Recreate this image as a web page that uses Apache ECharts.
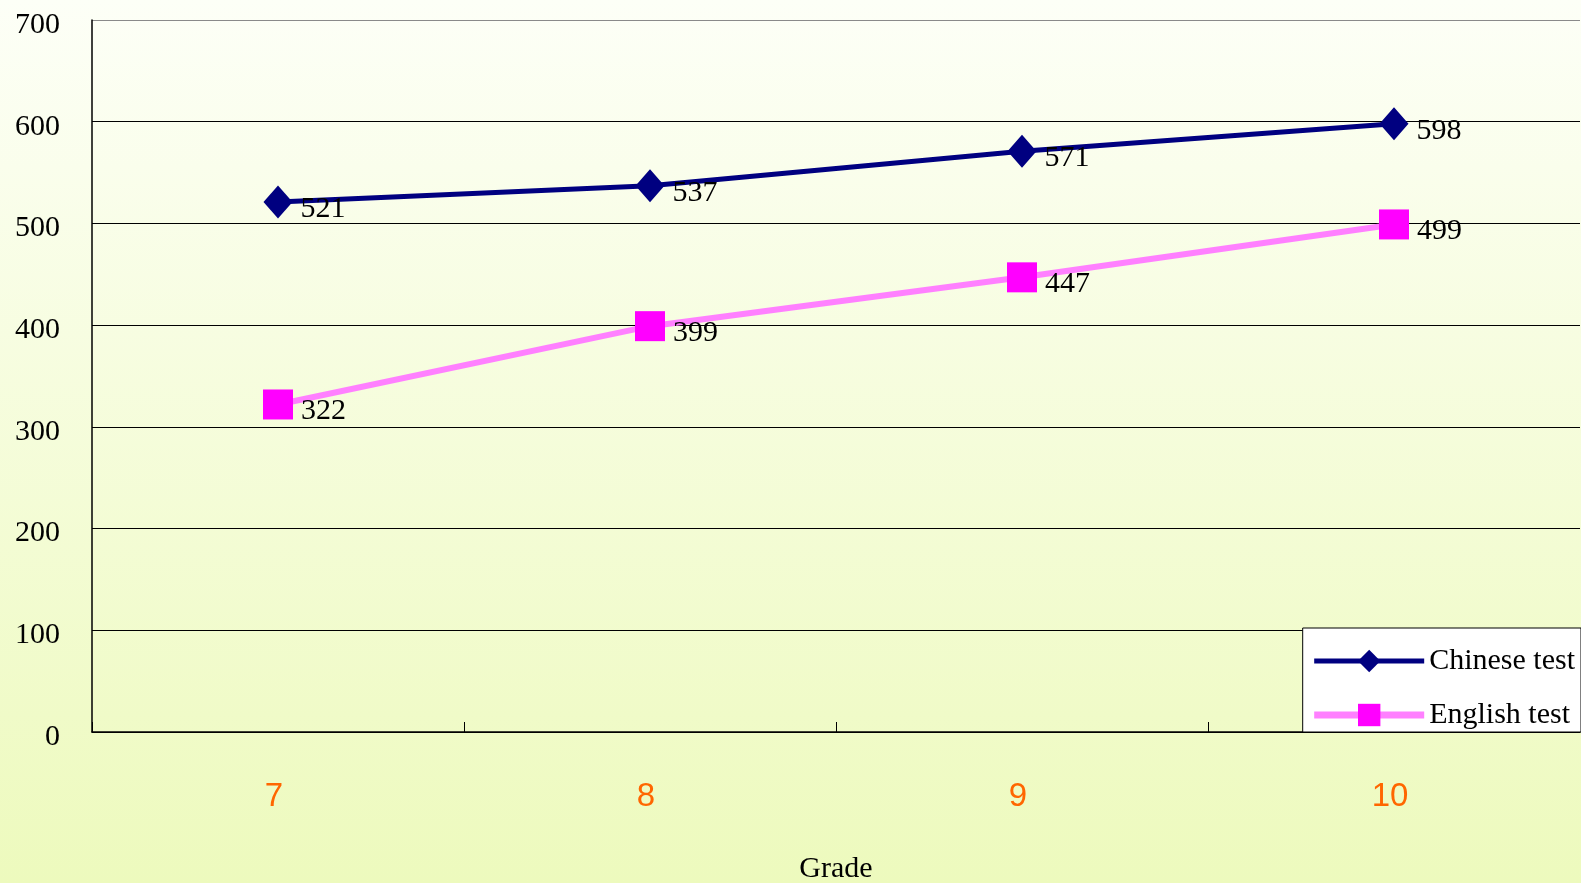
<!DOCTYPE html>
<html>
<head>
<meta charset="utf-8">
<script src="https://cdn.jsdelivr.net/npm/echarts@6/dist/echarts.min.js"></script>
<style>
  html, body { margin: 0; padding: 0; }
  #chart { width: 1581px; height: 883px; }
</style>
</head>
<body>
<div id="chart"></div>
<script>
const grades = ['7', '8', '9', '10']
const chineseScores = [521, 537, 571, 598]
const englishScores = [322, 399, 447, 499]
const seriesNames = ['Chinese test', 'English test']

const serif = '"Liberation Serif", "DejaVu Serif", serif'

let chart = echarts.init(document.getElementById('chart'))

let labelStyle = {
    show: true,
    position: 'right',
    distance: 8,
    offset: [0, 7],
    fontFamily: serif,
    fontSize: 30,
    color: '#000'
}

let option = {
    backgroundColor: {
        type: 'linear', x: 0, y: 0, x2: 0, y2: 1,
        colorStops: [
            {offset: 0, color: '#fdfff7'},
            {offset: 1, color: '#edfabd'}
        ]
    },
    animation: false,
    grid: {left: 92, right: 1, top: 20, bottom: 151, outerBoundsMode: 'none', containLabel: false},
    legend: {
        orient: 'vertical',
        right: 0,
        bottom: 151,
        backgroundColor: '#fff',
        borderColor: '#000',
        borderWidth: 1,
        padding: [18, 6, 2, 8],
        itemWidth: 110,
        itemHeight: 28,
        itemGap: 24,
        textStyle: {fontFamily: serif, fontSize: 30, color: '#000'},
        data: [
            {name: seriesNames[0], lineStyle: {width: 5, color: '#000080'}},
            {name: seriesNames[1], lineStyle: {width: 7, color: '#ff80ff'}}
        ]
    },
    xAxis: {
        type: 'category',
        data: grades,
        name: 'Grade',
        nameLocation: 'middle',
        nameGap: 122,
        nameTextStyle: {fontFamily: serif, fontSize: 30, color: '#000'},
        axisLine: {lineStyle: {color: '#000', width: 1.5}},
        axisTick: {show: true, inside: true, length: 10, lineStyle: {color: '#000'}},
        axisLabel: {
            margin: 48,
            padding: [0, 8, 0, 0],
            fontFamily: '"Liberation Sans", Arial, sans-serif',
            fontSize: 33,
            color: '#ff6600'
        }
    },
    yAxis: {
        type: 'value',
        min: 0,
        max: 700,
        interval: 100,
        axisLine: {show: true, lineStyle: {color: '#000', width: 1.5}},
        axisTick: {show: false},
        axisLabel: {
            margin: 32,
            verticalAlign: 'top',
            lineHeight: 10,
            fontFamily: serif,
            fontSize: 30,
            color: '#000'
        },
        splitLine: {
            show: true,
            lineStyle: {
                color: ['#000', '#000', '#000', '#000', '#000', '#000', '#000', '#8a8a8a'],
                width: 1
            }
        }
    },
    series: [
        {
            name: seriesNames[0],
            type: 'line',
            data: chineseScores,
            symbol: 'diamond',
            symbolSize: [29, 33],
            lineStyle: {color: '#000080', width: 5},
            itemStyle: {color: '#000080'},
            label: labelStyle
        },
        {
            name: seriesNames[1],
            type: 'line',
            data: englishScores,
            symbol: 'rect',
            symbolSize: 30,
            lineStyle: {color: '#ff80ff', width: 6},
            itemStyle: {color: '#ff00ff'},
            label: labelStyle
        }
    ]
}

chart.setOption(option)
</script>
</body>
</html>
